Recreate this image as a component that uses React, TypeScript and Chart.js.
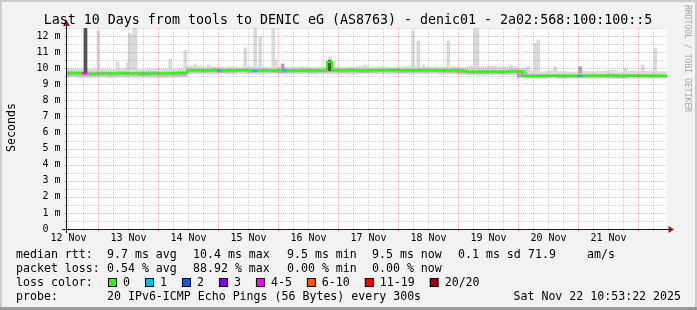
import React, { useEffect, useRef } from 'react';
import { Chart, registerables } from 'chart.js';

Chart.register(...registerables);

// ---------------- data ----------------
// x axis: hours since 12 Nov 00:00
const START_HOUR = 11.4;
const END_HOUR = 251.4;
const STEP_HOURS = 2; // median sample spacing
const SMOKE_STEP_HOURS = 4; // smoke sample spacing

const titleText = 'Last 10 Days from tools to DENIC eG (AS8763) - denic01 - 2a02:568:100:100::5';
const yAxisTitle = 'Seconds';
const watermark = 'RRDTOOL / TOBI OETIKER';

const dayLabels = ['12 Nov', '13 Nov', '14 Nov', '15 Nov', '16 Nov', '17 Nov', '18 Nov', '19 Nov', '20 Nov', '21 Nov'];
const dayLabelHours = [12, 36, 60, 84, 108, 132, 156, 180, 204, 228];
const yTickLabels = ['0  ', '1 m', '2 m', '3 m', '4 m', '5 m', '6 m', '7 m', '8 m', '9 m', '10 m', '11 m', '12 m'];

// median RTT (ms), one value per 2 hours
const median = [
  9.71, 9.70, 9.72, 9.68, 9.66, 9.65, 9.67, 9.68, 9.69, 9.67, 9.68, 9.70, 9.68, 9.69, 9.67, 9.68, 9.66, 9.68, 9.69, 9.67, 9.68, 9.69, 9.70, 9.71,
  9.88, 9.87, 9.89, 9.88, 9.86, 9.87, 9.86, 9.88, 9.87, 9.85, 9.86, 9.87, 9.85, 9.84, 9.86, 9.85, 9.86, 9.84, 9.85, 9.86, 9.85, 9.86, 9.84, 9.85,
  9.86, 9.85, 9.84, 9.86, 10.38, 9.86, 9.87, 9.86, 9.88, 9.87, 9.86, 9.88, 9.87, 9.89, 9.88, 9.87, 9.88, 9.89, 9.88, 9.87, 9.88, 9.86, 9.87, 9.88,
  9.86, 9.87, 9.88, 9.87, 9.86, 9.87, 9.85,
  9.79, 9.78, 9.76, 9.78, 9.79, 9.77, 9.78, 9.76, 9.79, 9.78, 9.80, 9.81,
  9.52, 9.51, 9.53, 9.52, 9.54, 9.53, 9.52, 9.54, 9.53, 9.55, 9.53, 9.52, 9.54, 9.53, 9.55, 9.54, 9.53, 9.54, 9.56, 9.55, 9.54, 9.53, 9.55, 9.54,
  9.53, 9.52, 9.54, 9.53, 9.52,
];

// lost pings (of 20) per median sample
const lossCount = [
  0, 0, 0, 4, 0, 0, 0, 0, 0, 0, 0, 0, 0, 0, 0, 0, 0, 0, 0, 0, 0, 0, 0, 0,
  0, 0, 0, 0, 0, 0, 1, 0, 0, 0, 0, 0, 0, 1, 0, 0, 0, 0, 0, 1, 0, 0, 0, 0,
  0, 0, 0, 0, 0, 0, 0, 0, 0, 0, 0, 0, 0, 0, 0, 0, 0, 0, 0, 0, 0, 0, 0, 0,
  0, 0, 0, 0, 0, 0, 0,
  0, 0, 0, 0, 0, 0, 0, 0, 0, 0, 0, 0,
  0, 0, 0, 0, 0, 0, 0, 0, 0, 0, 0, 1, 0, 0, 0, 0, 0, 0, 0, 0, 0, 0, 0, 0,
  0, 0, 0, 0, 0,
];

// smoke (ping spread), one value per 4 hours
const smokeOuterHi = [
  9.97, 9.95, 9.93, 9.94, 9.92, 9.96, 9.93, 9.91, 9.94, 9.95, 9.92, 9.96,
  10.12, 10.08, 10.10, 10.06, 10.09, 10.05, 10.10, 10.07, 10.04, 10.08, 10.06, 10.09, 10.05, 10.07, 10.10, 10.06, 10.08, 10.12, 10.07, 10.09, 10.05, 10.08, 10.11, 10.06, 10.09, 10.07, 10.10,
  10.06,
  10.12, 10.10, 10.14, 10.09, 10.11,
  10.02,
  9.82, 9.78, 9.85, 9.80, 9.76, 9.83, 9.79, 9.81, 9.86, 9.78, 9.82, 9.80, 9.84, 9.79,
];
const smokeOuterLo = [
  9.45, 9.42, 9.40, 9.43, 9.41, 9.44, 9.42, 9.43, 9.41, 9.40, 9.43, 9.44,
  9.66, 9.64, 9.62, 9.65, 9.63, 9.66, 9.64, 9.62, 9.65, 9.63, 9.64, 9.66, 9.62, 9.65, 9.63, 9.64, 9.62, 9.65, 9.66, 9.64, 9.63, 9.65, 9.62, 9.64, 9.66, 9.63, 9.64,
  9.60,
  9.58, 9.56, 9.59, 9.57, 9.58,
  9.38,
  9.38, 9.36, 9.39, 9.35, 9.37, 9.38, 9.36, 9.39, 9.37, 9.35, 9.38, 9.36, 9.37, 9.38,
];
const smokeInnerHi = [
  9.78, 9.77, 9.76, 9.77, 9.76, 9.78, 9.76, 9.77, 9.78, 9.76, 9.77, 9.79,
  9.95, 9.94, 9.96, 9.93, 9.94, 9.95, 9.93, 9.94, 9.92, 9.94, 9.93, 9.95, 9.94, 9.93, 9.95, 9.94, 9.96, 9.95, 9.93, 9.94, 9.95, 9.93, 9.94, 9.96, 9.94, 9.93, 9.95,
  9.92,
  9.88, 9.87, 9.88, 9.86, 9.89,
  9.86,
  9.61, 9.60, 9.62, 9.61, 9.59, 9.62, 9.61, 9.62, 9.63, 9.60, 9.62, 9.61, 9.62, 9.60,
];
const smokeInnerLo = [
  9.56, 9.55, 9.54, 9.56, 9.55, 9.57, 9.56, 9.54, 9.56, 9.55, 9.57, 9.56,
  9.76, 9.75, 9.76, 9.74, 9.75, 9.77, 9.74, 9.76, 9.75, 9.73, 9.75, 9.76, 9.74, 9.75, 9.77, 9.75, 9.76, 9.74, 9.75, 9.77, 9.76, 9.74, 9.75, 9.76, 9.77, 9.75, 9.74,
  9.70,
  9.67, 9.66, 9.68, 9.67, 9.69,
  9.46,
  9.44, 9.43, 9.45, 9.42, 9.44, 9.43, 9.45, 9.44, 9.43, 9.42, 9.44, 9.45, 9.43, 9.44,
];

// outlier pings (tall smoke spikes)
const spikeHours = [18.8, 23.9, 31.6, 35.7, 36.5, 37.3, 38.3, 38.9, 52.7, 58.7, 62.7, 64.7, 68.0, 82.7, 86.7, 88.7, 93.9, 94.9, 97.7, 116.6, 116.4, 130.7, 149.8, 151.9, 154.0, 163.9, 174.6, 175.6, 189.1, 195.9, 198.7, 199.9, 206.7, 216.7, 234.7, 241.7, 246.7];
const spikeLow = [9.65, 9.9, 9.9, 9.9, 9.9, 9.9, 9.9, 9.9, 9.9, 9.9, 10.0, 10.0, 10.0, 10.0, 10.0, 10.0, 10.0, 10.0, 9.9, 10.3, 9.84, 10.0, 10.0, 10.0, 10.0, 10.0, 10.0, 10.0, 10.0, 9.8, 9.8, 9.8, 9.8, 9.7, 9.8, 9.8, 9.8];
const spikeHigh = [12.5, 12.33, 10.4, 10.32, 12.17, 12.12, 12.5, 12.5, 10.57, 11.09, 10.26, 10.14, 10.2, 11.26, 12.5, 11.98, 12.5, 10.5, 10.26, 10.72, 10.5, 10.2, 12.33, 11.7, 10.2, 11.7, 12.5, 12.5, 10.2, 10.1, 11.55, 11.75, 10.1, 10.1, 10.0, 10.2, 11.26];
const spikeShade = [2, 0, 0, 0, 0, 0, 0, 0, 0, 0, 0, 0, 0, 0, 0, 0, 0, 0, 1, 0, 2, 0, 0, 0, 0, 0, 0, 0, 0, 0, 0, 0, 0, 1, 0, 0, 0];

// loss colour legend
const lossLegendLabels = ['0', '1', '2', '3', '4-5', '6-10', '11-19', '20/20'];
const lossUpperBound = [0, 1, 2, 3, 5, 10, 19, 20];
const lossPalette = ['#26ff00', '#00b8ff', '#0059ff', '#7e00ff', '#ff00ff', '#ff5500', '#ff0000', '#a00000'];

// statistics text
const rttStats = ['median rtt:', '9.7 ms avg', '10.4 ms max', '9.5 ms min', '9.5 ms now', '0.1 ms sd', '71.9', 'am/s'];
const lossStats = ['packet loss:', '0.54 % avg', '88.92 % max', '0.00 % min', '0.00 % now'];
const probeInfo = ['probe:', '20 IPv6-ICMP Echo Pings (56 Bytes) every 300s', 'Sat Nov 22 10:53:22 2025'];
const lossColorTitle = 'loss color:';

// ---------------- styling ----------------
const MONO = "'DejaVu Sans Mono', 'Liberation Mono', monospace";
const shadeColors = ['#dadada', '#a8a8a8', '#555555'];
const MAJOR_GRID = 'rgba(255, 0, 0, 0.33)';
const MINOR_GRID = 'rgba(128, 128, 128, 0.36)';
const ARROW = '#8c1c1c';

const lossColor = (n: number) => {
  for (let k = 0; k < lossUpperBound.length; k++) if (n <= lossUpperBound[k]) return lossPalette[k];
  return lossPalette[lossPalette.length - 1];
};

const smokepingPlugin = {
  id: 'smokepingFrame',
  beforeDraw(chart: any) {
    const { ctx, width, height, chartArea: a } = chart;
    ctx.save();
    ctx.fillStyle = '#f2f2f2';
    ctx.fillRect(0, 0, width, height);
    ctx.fillStyle = '#cbcbcb';
    ctx.fillRect(0, 0, width, 2);
    ctx.fillRect(0, 0, 2, height);
    ctx.fillRect(width - 2, 0, 2, height);
    ctx.fillStyle = '#9a9a9a';
    ctx.fillRect(0, height - 3, width, 3);
    ctx.fillStyle = '#ffffff';
    ctx.fillRect(a.left, a.top, a.right - a.left, a.bottom - a.top);
    ctx.restore();
  },
  afterDatasetsDraw(chart: any) {
    const { ctx, chartArea: a } = chart;
    const xs = chart.scales.x;
    const ys = chart.scales.y;
    ctx.save();
    ctx.lineWidth = 1;
    ctx.setLineDash([1, 1]);
    // horizontal grid
    for (let k = 1; k <= 25; k++) {
      const v = k * 0.5;
      const y = Math.round(ys.getPixelForValue(v)) + 0.5;
      ctx.strokeStyle = k % 2 === 0 ? MAJOR_GRID : MINOR_GRID;
      ctx.beginPath();
      ctx.moveTo(a.left, y);
      ctx.lineTo(a.right, y);
      ctx.stroke();
    }
    // vertical grid
    for (let h = 12; h < END_HOUR; h += 6) {
      const x = Math.floor(xs.getPixelForValue(h)) + 0.5;
      ctx.strokeStyle = h % 24 === 0 ? MAJOR_GRID : MINOR_GRID;
      ctx.beginPath();
      ctx.moveTo(x, a.top);
      ctx.lineTo(x, a.bottom);
      ctx.stroke();
    }
    ctx.setLineDash([]);
    // tick marks
    for (let h = 12; h < END_HOUR; h += 6) {
      const x = Math.floor(xs.getPixelForValue(h)) + 0.5;
      const major = h % 24 === 0;
      ctx.strokeStyle = major ? MAJOR_GRID : MINOR_GRID;
      ctx.beginPath();
      ctx.moveTo(x, a.bottom);
      ctx.lineTo(x, a.bottom + (major ? 3 : 2));
      ctx.stroke();
    }
    for (let k = 1; k <= 25; k++) {
      const y = Math.round(ys.getPixelForValue(k * 0.5)) + 0.5;
      ctx.strokeStyle = k % 2 === 0 ? MAJOR_GRID : MINOR_GRID;
      ctx.beginPath();
      ctx.moveTo(a.left - 3, y);
      ctx.lineTo(a.left - 1, y);
      ctx.stroke();
    }
    // axes
    const ax = a.left - 0.5;
    const ay = a.bottom + 0.5;
    ctx.strokeStyle = '#1a1a1a';
    ctx.beginPath();
    ctx.moveTo(ax, a.bottom + 4);
    ctx.lineTo(ax, a.top - 3);
    ctx.moveTo(a.left - 5, ay);
    ctx.lineTo(a.right + 2, ay);
    ctx.stroke();
    ctx.fillStyle = ARROW;
    ctx.beginPath();
    ctx.moveTo(ax, a.top - 8);
    ctx.lineTo(ax + 3.5, a.top - 2);
    ctx.lineTo(ax - 3.5, a.top - 2);
    ctx.closePath();
    ctx.fill();
    ctx.beginPath();
    ctx.moveTo(a.right + 7, ay);
    ctx.lineTo(a.right + 1.5, ay - 3.5);
    ctx.lineTo(a.right + 1.5, ay + 3.5);
    ctx.closePath();
    ctx.fill();
    ctx.restore();
  },
  afterDraw(chart: any) {
    const { ctx } = chart;
    ctx.save();
    ctx.fillStyle = '#000';
    ctx.textBaseline = 'alphabetic';
    // title
    ctx.font = `13.3px ${MONO}`;
    ctx.textAlign = 'center';
    ctx.fillText(titleText, 348, 24);
    // y axis title
    ctx.save();
    ctx.font = `11.6px ${MONO}`;
    ctx.translate(15, 127.5);
    ctx.rotate(-Math.PI / 2);
    ctx.textAlign = 'center';
    ctx.fillText(yAxisTitle, 0, 0);
    ctx.restore();
    // watermark
    ctx.save();
    ctx.font = `8.1px ${MONO}`;
    ctx.fillStyle = '#a6a6a6';
    ctx.translate(685, 5);
    ctx.rotate(Math.PI / 2);
    ctx.textAlign = 'left';
    ctx.fillText(watermark, 0, 0);
    ctx.restore();
    // legend
    ctx.font = `11.6px ${MONO}`;
    ctx.textAlign = 'left';
    const colX = [16, 107, 193, 287, 372, 458, 528, 587];
    rttStats.forEach((s, i) => ctx.fillText(s, colX[i], 258));
    lossStats.forEach((s, i) => ctx.fillText(s, colX[i], 272));
    ctx.fillText(lossColorTitle, 16, 286);
    let bx = 108;
    lossLegendLabels.forEach((lab, i) => {
      ctx.fillStyle = '#000';
      ctx.fillRect(bx, 278, 9, 9);
      ctx.fillStyle = lossPalette[i];
      ctx.fillRect(bx + 1, 279, 7, 7);
      ctx.fillStyle = '#000';
      ctx.fillText(lab, bx + 15, 286);
      bx = bx + 15 + ctx.measureText(lab).width + 15;
    });
    ctx.fillText(probeInfo[0], 16, 300);
    ctx.fillText(probeInfo[1], 107, 300);
    ctx.textAlign = 'right';
    ctx.fillText(probeInfo[2], 681, 300);
    ctx.restore();
  },
};

export default function App() {
  const canvasRef = useRef<HTMLCanvasElement | null>(null);

  useEffect(() => {
    const canvas = canvasRef.current;
    if (!canvas) return;

    const medianPoints = median.map((v, i) => ({ x: START_HOUR + STEP_HOURS * i, y: v }));
    medianPoints.push({ x: START_HOUR + STEP_HOURS * median.length, y: median[median.length - 1] });

    const smokeX = (j: number) => START_HOUR + SMOKE_STEP_HOURS * j + SMOKE_STEP_HOURS / 2;

    const chart = new Chart(canvas, {
      type: 'line',
      data: {
        datasets: [
          {
            type: 'line',
            label: 'median',
            data: medianPoints,
            stepped: true,
            borderWidth: 2,
            borderColor: lossPalette[0],
            pointRadius: 0,
            tension: 0,
            order: 0,
            segment: {
              borderColor: (c: any) => lossColor(lossCount[c.p0DataIndex] ?? 0),
            },
          } as any,
          {
            type: 'bar',
            label: 'outliers',
            data: spikeHours.map((h, i) => ({ x: h, y: [spikeLow[i], spikeHigh[i]] })),
            backgroundColor: spikeShade.map((s) => shadeColors[s]),
            borderWidth: 0,
            barThickness: 3,
            stack: 'smoke',
            order: 1,
          } as any,
          {
            type: 'bar',
            label: 'inner smoke',
            data: smokeInnerHi.map((v, j) => ({ x: smokeX(j), y: [smokeInnerLo[j], v] })),
            backgroundColor: '#b2b2b2',
            borderWidth: 0,
            barThickness: 10,
            stack: 'smoke',
            order: 2,
          } as any,
          {
            type: 'bar',
            label: 'outer smoke',
            data: smokeOuterHi.map((v, j) => ({ x: smokeX(j), y: [smokeOuterLo[j], v] })),
            backgroundColor: '#dcdcdc',
            borderWidth: 0,
            barThickness: 10,
            stack: 'smoke',
            order: 3,
          } as any,
        ],
      },
      options: {
        responsive: false,
        animation: false,
        devicePixelRatio: 1,
        events: [],
        layout: { padding: { left: 0, top: 28, right: 30, bottom: 61 } },
        plugins: {
          legend: { display: false },
          tooltip: { enabled: false },
          title: { display: false },
        },
        scales: {
          x: {
            type: 'linear',
            min: START_HOUR,
            max: END_HOUR,
            bounds: 'data',
            offset: false,
            grid: { display: false, drawTicks: false },
            border: { display: false },
            ticks: {
              autoSkip: false,
              maxRotation: 0,
              minRotation: 0,
              padding: 3,
              color: '#000',
              font: { family: MONO, size: 10 },
              callback: (v: any) => {
                const k = dayLabelHours.indexOf(Number(v));
                return k >= 0 ? dayLabels[k] : '';
              },
            },
            afterBuildTicks: (axis: any) => {
              const t = [];
              for (let h = 12; h < END_HOUR; h += 6) t.push({ value: h });
              axis.ticks = t;
            },
            afterFit: (axis: any) => {
              axis.height = 20;
            },
          },
          y: {
            type: 'linear',
            min: 0,
            max: 12.5,
            bounds: 'data',
            stacked: false,
            grid: { display: false, drawTicks: false },
            border: { display: false },
            ticks: {
              autoSkip: false,
              padding: 6.5,
              color: '#000',
              font: { family: MONO, size: 10 },
              callback: (v: any) => yTickLabels[Number(v)] ?? '',
            },
            afterBuildTicks: (axis: any) => {
              axis.ticks = yTickLabels.map((_, i) => ({ value: i }));
            },
            afterFit: (axis: any) => {
              axis.width = 67;
            },
          },
        },
      } as any,
      plugins: [smokepingPlugin],
    });

    return () => chart.destroy();
  }, []);

  return (
    <div style={{ position: 'absolute', left: 0, top: 0, width: 697, height: 310 }}>
      <canvas ref={canvasRef} width={697} height={310} style={{ display: 'block', width: 697, height: 310 }} />
    </div>
  );
}
